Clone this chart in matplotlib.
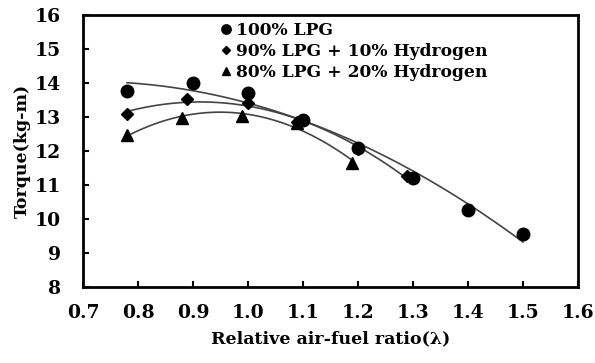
import numpy as np
import matplotlib
matplotlib.use("Agg")
import matplotlib.pyplot as plt
from matplotlib.lines import Line2D

# Data
x100 = [0.78, 0.90, 1.00, 1.10, 1.20, 1.30, 1.40, 1.50]
y100 = [13.75, 14.00, 13.70, 12.90, 12.10, 11.20, 10.27, 9.57]
x90 = [0.78, 0.89, 1.00, 1.09, 1.20, 1.29]
y90 = [13.10, 13.52, 13.40, 12.85, 12.05, 11.25]
x80 = [0.78, 0.88, 0.99, 1.09, 1.19]
y80 = [12.48, 12.97, 13.02, 12.82, 11.65]
labels = ["100% LPG", "90% LPG + 10% Hydrogen", "80% LPG + 20% Hydrogen"]
xticks = [0.7, 0.8, 0.9, 1.0, 1.1, 1.2, 1.3, 1.4, 1.5, 1.6]
yticks = [8, 9, 10, 11, 12, 13, 14, 15, 16]

plt.rcParams['font.family'] = ['DejaVu Serif']
plt.rcParams['font.weight'] = 'bold'

fig = plt.figure(figsize=(5.95, 3.63), dpi=100)
ax = fig.add_axes([0.1395, 0.2094, 0.9714 - 0.1395, 0.9587 - 0.2094])

series = [(x100, y100, 'o', 9), (x90, y90, 'D', 6), (x80, y80, '^', 8)]
handles = []
for (xs, ys, m, ms), lab in zip(series, labels):
    c = np.polyfit(xs, ys, 2)
    xx = np.linspace(min(xs), max(xs), 100)
    ax.plot(xx, np.polyval(c, xx), color='#444444', lw=1.2, zorder=2)
    ax.plot(xs, ys, linestyle='none', marker=m, markersize=ms, color='black', zorder=3)
    handles.append(Line2D([], [], linestyle='none', marker=m, markersize=ms * 0.75, color='black'))

ax.set_xlim(0.7, 1.6)
ax.set_ylim(8, 16)
ax.set_xticks(xticks)
ax.set_xticklabels([f"{v:.1f}" for v in xticks])
ax.set_yticks(yticks)
ax.tick_params(direction='in', length=4, width=1.5, labelsize=13.5)
ax.tick_params(axis='x', pad=12)
ax.tick_params(axis='y', pad=16)
for s in ax.spines.values():
    s.set_linewidth(2)
ax.set_xlabel("Relative air-fuel ratio(λ)", fontsize=12.5, fontweight='bold', labelpad=6)
ax.set_ylabel("Torque(kg-m)", fontsize=12.5, fontweight='bold', labelpad=3)

leg = ax.legend(handles, labels, loc='upper left', bbox_to_anchor=(0.265, 1.0), frameon=False,
                handlelength=0.6, handletextpad=0.3, labelspacing=0.25, borderaxespad=0,
                prop={'size': 12.3, 'weight': 'bold'})

fig.savefig("out.png", dpi=100)
